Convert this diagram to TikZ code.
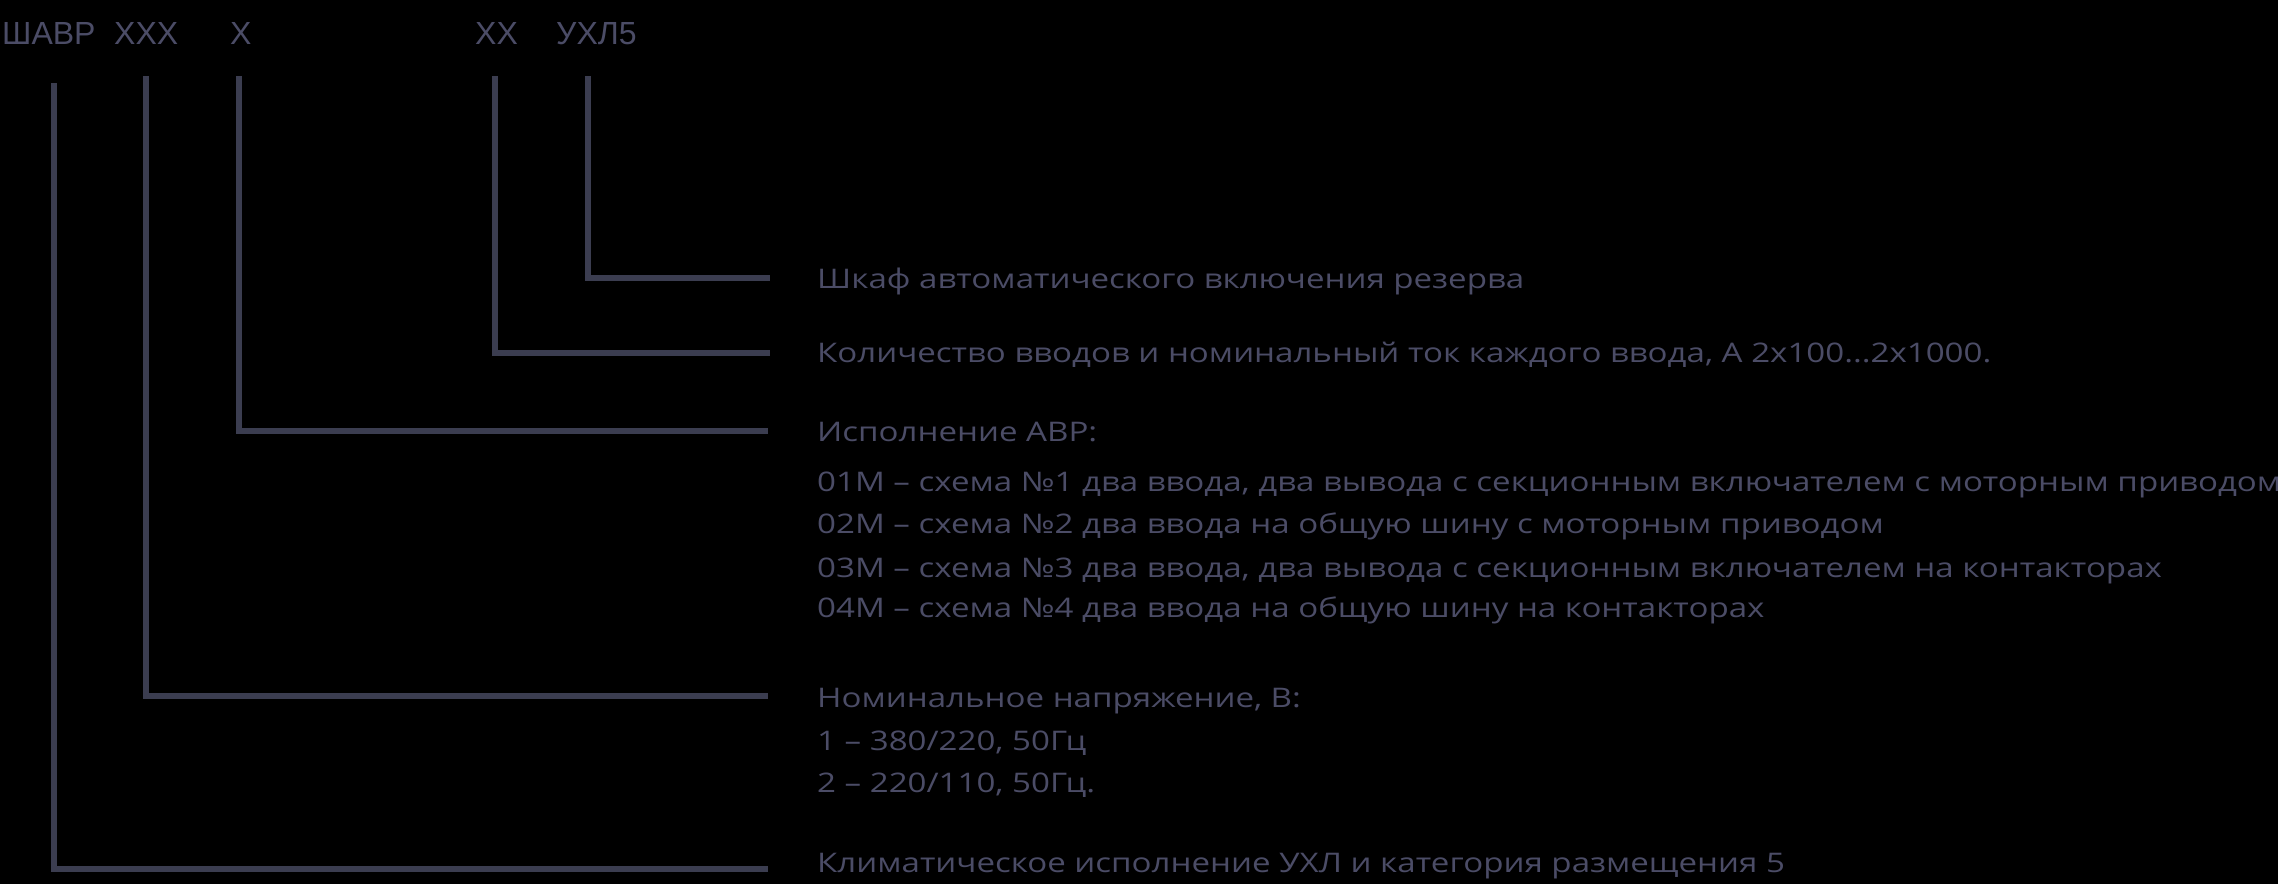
\documentclass[tikz,border=0pt]{standalone}
\usepackage{fontspec}
\setmainfont{Open Sans}
\newfontfamily\descfont[FakeStretch=1.225]{Open Sans}
\newfontfamily\topfont{Liberation Sans}
\definecolor{txtcol}{HTML}{4B4C66}
\definecolor{lncol}{HTML}{3B3D50}
\begin{document}
\begin{tikzpicture}[x=1pt,y=-1pt,
  conn/.style={draw=lncol,line width=6.5pt,line join=miter},
  code/.style={anchor=base west,inner sep=0pt,text=txtcol,font=\topfont\fontsize{32}{32}\selectfont},
  desc/.style={anchor=base west,inner sep=0pt,text=txtcol,font=\descfont\fontsize{27}{27}\selectfont}]
\fill[black] (0,0) rectangle (2278,884);
\useasboundingbox (0,0) rectangle (2278,884);
% top code
\node[code] (c1) at (2,44) {ШАВР};
\node[code] (c2) at (114,44) {XXX};
\node[code] (c3) at (230,44) {X};
\node[code] (c4) at (475,44) {XX};
\node[code] (c5) at (556,44) {УХЛ5};
% descriptions
\node[desc] (d1) at (817,288) {Шкаф автоматического включения резерва};
\node[desc] (d2) at (817,362) {Количество вводов и номинальный ток каждого ввода, А 2х100...2х1000.};
\node[desc] (d3) at (817,441) {Исполнение АВР:};
\node[desc] (d3a) at (817,491) {01М – схема №1 два ввода, два вывода с секционным включателем с моторным приводом};
\node[desc] (d3b) at (817,533) {02М – схема №2 два ввода на общую шину с моторным приводом};
\node[desc] (d3c) at (817,577) {03М – схема №3 два ввода, два вывода с секционным включателем на контакторах};
\node[desc] (d3d) at (817,617) {04М – схема №4 два ввода на общую шину на контакторах};
\node[desc] (d4) at (817,707) {Номинальное напряжение, В:};
\node[desc] (d4a) at (817,750) {1 – 380/220, 50Гц};
\node[desc] (d4b) at (817,792) {2 – 220/110, 50Гц.};
\node[desc] (d5) at (817,872) {Климатическое исполнение УХЛ и категория размещения 5};
% connector points
\coordinate (t1) at (54,83);
\coordinate (t2) at (146,76);
\coordinate (t3) at (239,76);
\coordinate (t4) at (495,76);
\coordinate (t5) at (588,76);
\coordinate (e5) at (770,278);
\coordinate (e4) at (770,353);
\coordinate (e3) at (768,431);
\coordinate (e2) at (768,696);
\coordinate (e1) at (768,869);
\draw[conn] (t5) |- (e5);
\draw[conn] (t4) |- (e4);
\draw[conn] (t3) |- (e3);
\draw[conn] (t2) |- (e2);
\draw[conn] (t1) |- (e1);
\end{tikzpicture}
\end{document}
